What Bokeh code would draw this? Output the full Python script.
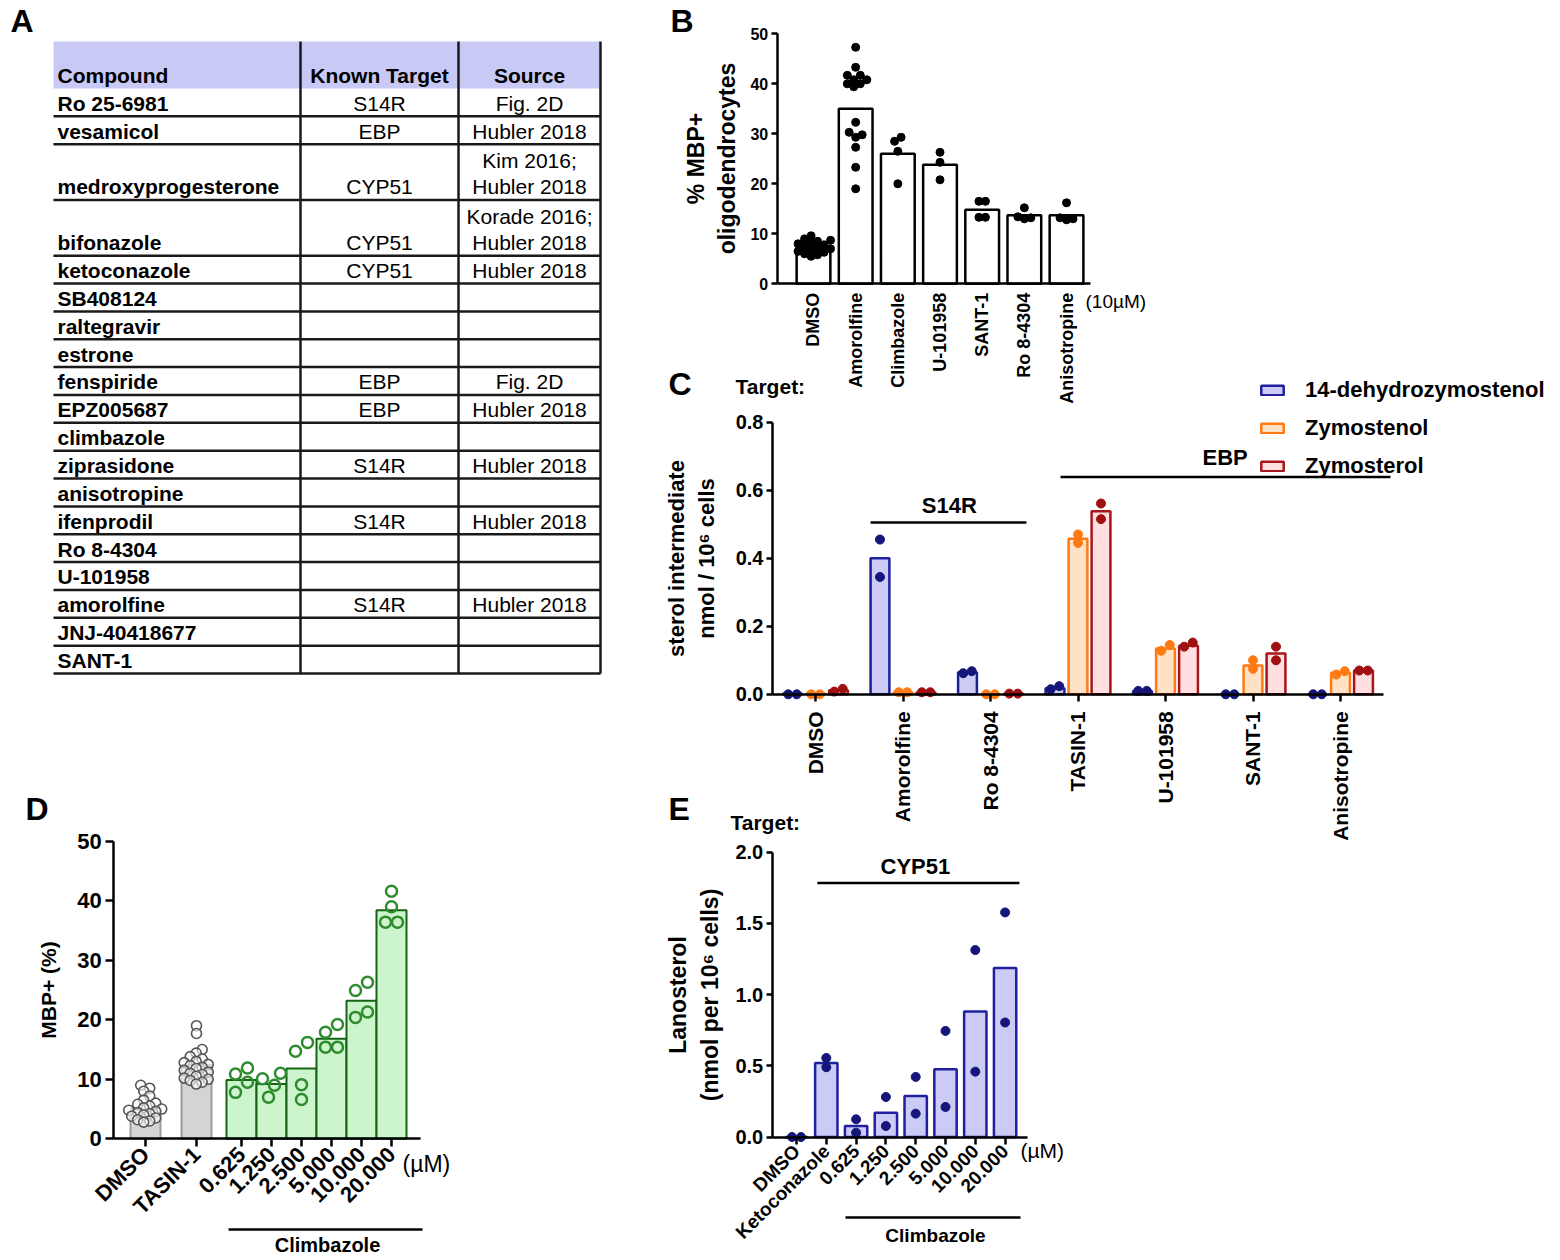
import math
from bokeh.plotting import figure
from bokeh.layouts import row, column
from bokeh.models import (Range1d, FixedTicker, Label, Legend, LegendItem, BoxAnnotation,
                          PrintfTickFormatter)
from bokeh.embed import file_html
from bokeh.resources import INLINE
from bokeh.core.properties import value

FONT = "Liberation Sans"

# ============================ DATA ============================
# Panel A (table)
table_header = ["Compound", "Known Target", "Source"]
table_compounds = ["Ro 25-6981", "vesamicol", "medroxyprogesterone", "bifonazole",
                   "ketoconazole", "SB408124", "raltegravir", "estrone", "fenspiride",
                   "EPZ005687", "climbazole", "ziprasidone", "anisotropine", "ifenprodil",
                   "Ro 8-4304", "U-101958", "amorolfine", "JNJ-40418677", "SANT-1"]
table_targets = ["S14R", "EBP", "CYP51", "CYP51", "CYP51", "", "", "", "EBP", "EBP", "",
                 "S14R", "", "S14R", "", "", "S14R", "", ""]
table_sources = ["Fig. 2D", "Hubler 2018", "Kim 2016;\nHubler 2018", "Korade 2016;\nHubler 2018",
                 "Hubler 2018", "", "", "", "Fig. 2D", "Hubler 2018", "", "Hubler 2018", "",
                 "Hubler 2018", "", "", "Hubler 2018", "", ""]

# Panel B
b_categories = ["DMSO", "Amorolfine", "Climbazole", "U-101958", "SANT-1", "Ro 8-4304", "Anisotropine"]
b_means = [7.3, 35.0, 26.0, 23.8, 14.8, 13.7, 13.7]
b_points = [
    [9.6, 9.0, 8.7, 8.5, 8.2, 8.0, 7.8, 7.5, 7.2, 7.0, 6.8, 6.5, 6.3, 6.0, 5.8, 5.5],
    [47.3, 43.3, 41.7, 40.8, 40.0, 39.4, 40.0, 40.8, 41.7, 32.3, 30.3, 29.8, 29.3, 27.3, 23.3, 19.0],
    [28.5, 29.3, 26.5, 20.0],
    [26.3, 24.3, 20.8],
    [16.5, 16.5, 13.3, 13.3],
    [15.2, 13.4, 13.0, 13.2],
    [16.2, 13.2, 12.8, 13.0],
]
b_yticks = [0, 10, 20, 30, 40, 50]
b_ylabel = "% MBP+\noligodendrocytes"
b_unit = "(10µM)"

# Panel C
c_categories = ["DMSO", "Amorolfine", "Ro 8-4304", "TASIN-1", "U-101958", "SANT-1", "Anisotropine"]
c_series = ["14-dehydrozymostenol", "Zymostenol", "Zymosterol"]
c_mean_dehydro = [0.002, 0.40, 0.065, 0.018, 0.010, 0.0, 0.0]
c_mean_zymostenol = [0.002, 0.005, 0.0, 0.457, 0.135, 0.085, 0.063]
c_mean_zymosterol = [0.012, 0.005, 0.002, 0.538, 0.143, 0.120, 0.070]
c_pts_dehydro = [[0.0, 0.0], [0.455, 0.345], [0.062, 0.068], [0.015, 0.024],
                 [0.010, 0.010], [0.0, 0.0], [0.0, 0.0]]
c_pts_zymostenol = [[0.0, 0.0], [0.006, 0.006], [0.0, 0.0], [0.445, 0.470],
                    [0.128, 0.145], [0.075, 0.100], [0.058, 0.068]]
c_pts_zymosterol = [[0.008, 0.016], [0.006, 0.006], [0.002, 0.002], [0.515, 0.561],
                    [0.140, 0.152], [0.100, 0.140], [0.070, 0.070]]
c_yticks = [0.0, 0.2, 0.4, 0.6, 0.8]
c_ylabel = "sterol intermediate\nnmol / 10\u2076 cells"
c_targets = ["S14R", "EBP"]

# Panel D
d_categories = ["DMSO", "TASIN-1", "0.625", "1.250", "2.500", "5.000", "10.000", "20.000"]
d_means = [5.0, 12.4, 9.9, 9.2, 11.8, 16.8, 23.2, 38.4]
d_points = [
    [9.0, 8.5, 8.0, 7.2, 6.5, 6.0, 5.8, 5.5, 5.2, 5.0, 4.8, 4.6, 4.4, 4.2, 4.0, 3.8, 3.5, 3.2, 3.0, 2.8],
    [19.0, 17.7, 15.0, 14.4, 13.8, 13.4, 13.0, 12.8, 12.5, 12.3, 12.0, 11.8, 11.5, 11.2, 11.0,
     10.8, 10.5, 10.2, 10.0, 9.8, 9.5, 9.2],
    [10.9, 7.8, 11.9, 9.5],
    [10.1, 7.0, 11.0, 9.0],
    [14.7, 9.1, 6.6, 16.2],
    [17.9, 15.4, 19.2, 15.4],
    [24.9, 20.4, 26.3, 21.3],
    [41.6, 39.0, 36.4, 36.4],
]
d_yticks = [0, 10, 20, 30, 40, 50]
d_ylabel = "MBP+ (%)"
d_group = "Climbazole"
d_unit = "(µM)"

# Panel E
e_categories = ["DMSO", "Ketoconazole", "0.625", "1.250", "2.500", "5.000", "10.000", "20.000"]
e_means = [0.0, 0.52, 0.077, 0.171, 0.288, 0.476, 0.881, 1.186]
e_points = [[0.0, 0.0], [0.49, 0.555], [0.124, 0.030], [0.281, 0.077], [0.422, 0.164],
            [0.745, 0.211], [1.313, 0.459], [1.577, 0.804]]
e_yticks = [0.0, 0.5, 1.0, 1.5, 2.0]
e_ylabel = "Lanosterol\n(nmol per 10\u2076 cells)"
e_target = "CYP51"
e_group = "Climbazole"
e_unit = "(µM)"


# ============================ HELPERS ============================
def xr_of(left_px, right_px, v0_px, s):
    """x range covering page pixels [left_px, right_px], value 0 at v0_px, s px per unit"""
    return ((left_px - v0_px) / s, (right_px - v0_px) / s)


def yr_of(top_px, bottom_px, v0_px, s):
    return ((v0_px - bottom_px) / s, (v0_px - top_px) / s)


def base_fig(W, H, xr, yr):
    # the frame fills the whole canvas; axes are drawn at fixed locations inside it
    p = figure(width=W, height=H, x_range=Range1d(xr[0], xr[1]), y_range=Range1d(yr[0], yr[1]),
               min_border=0, min_border_left=0, min_border_right=0, min_border_top=0,
               min_border_bottom=0, output_backend="svg", toolbar_location=None, title=None)
    p.border_fill_color = None
    p.background_fill_color = None
    p.outline_line_color = None
    for g in p.grid:
        g.visible = False
    return p


def style_axis(ax, size, tick_out, standoff, lw=2.5):
    ax.axis_line_width = lw
    ax.axis_line_color = "black"
    ax.major_tick_line_width = lw
    ax.major_tick_line_color = "black"
    ax.major_tick_out = tick_out
    ax.major_tick_in = 0
    ax.minor_tick_line_color = None
    ax.major_label_text_font = FONT
    ax.major_label_text_font_size = f"{size}px"
    ax.major_label_text_font_style = "bold"
    ax.major_label_text_color = "black"
    ax.major_label_standoff = standoff
    ax.axis_label_text_font = FONT
    ax.axis_label_text_font_style = "bold"
    ax.axis_label_text_color = "black"


def put(p, org, H, px, py, text, size, bold=True, align="left"):
    """text whose visual centre line is at page pixel py"""
    ox, oy = org
    p.add_layout(Label(x=px - ox, y=H - (py - oy), x_units="screen", y_units="screen", text=text,
                       text_font=FONT, text_font_size=f"{size}px",
                       text_font_style="bold" if bold else "normal",
                       text_align=align, text_baseline="middle", text_color="black"))


def put_data(p, x, y, text, size, align="center"):
    p.add_layout(Label(x=x, y=y, text=text, text_font=FONT, text_font_size=f"{size}px",
                       text_font_style="bold", text_align=align, text_baseline="middle",
                       text_color="black"))


def hline(p, org, H, px0, px1, py, lw=2.5):
    ox, oy = org
    y = H - (py - oy)
    p.add_layout(BoxAnnotation(left=px0 - ox, right=px1 - ox, bottom=y - lw / 2, top=y + lw / 2,
                               left_units="screen", right_units="screen",
                               top_units="screen", bottom_units="screen",
                               fill_color="black", fill_alpha=1.0, line_color=None))


def swarm(vals, px_y, px_x, diam):
    """simple beeswarm: horizontal offsets (data units) so that dots do not overlap"""
    step = diam * 0.5
    order = sorted(range(len(vals)), key=lambda i: vals[i])
    placed = []
    offs = [0.0] * len(vals)
    for i in order:
        y = vals[i] * px_y
        k = 0
        while True:
            cands = [0.0] if k == 0 else [k * step, -k * step]
            hit = None
            for c in cands:
                if all((c - qx) ** 2 + (y - qy) ** 2 >= diam * diam for qx, qy in placed):
                    hit = c
                    break
            if hit is not None:
                break
            k += 1
        placed.append((hit, y))
        offs[i] = hit
    clusters, cur = [], [order[0]]
    for a, b in zip(order, order[1:]):
        if (vals[b] - vals[a]) * px_y < diam:
            cur.append(b)
        else:
            clusters.append(cur)
            cur = [b]
    clusters.append(cur)
    for cl in clusters:
        m = sum(offs[i] for i in cl) / len(cl)
        for i in cl:
            offs[i] -= m
    return [o / px_x for o in offs]


# ============================ PANEL A ============================
A_ORG, AW, AH = (0, 0), 650, 690
TBL_X0, TBL_Y0 = 53, 41            # table origin on the page
pa = base_fig(AW, AH, (-TBL_X0, AW - TBL_X0), (AH - TBL_Y0, -TBL_Y0))
pa.xaxis.visible = False
pa.yaxis.visible = False
HEADER_H, ROW_H, LINE_H = 47.0, 27.86, 26.5
COL_EDGES = [0.0, 247.0, 405.0, 547.0]
tgt_cx = (COL_EDGES[1] + COL_EDGES[2]) / 2
src_cx = (COL_EDGES[2] + COL_EDGES[3]) / 2

pa.quad(left=[COL_EDGES[0]], right=[COL_EDGES[3]], top=[0], bottom=[HEADER_H],
        fill_color="#c9c9f6", line_color=None)
units = [s.count("\n") + 1 for s in table_sources]
bottoms = []
acc = HEADER_H
for u in units:
    acc += u * ROW_H
    bottoms.append(acc)
pa.segment(x0=[COL_EDGES[0]] * len(bottoms), x1=[COL_EDGES[3]] * len(bottoms), y0=bottoms, y1=bottoms,
           line_color="#1a1a1a", line_width=2.5)
pa.segment(x0=COL_EDGES[1:], x1=COL_EDGES[1:], y0=[0] * 3, y1=[bottoms[-1]] * 3,
           line_color="#1a1a1a", line_width=2.5)

TXT = dict(text_font=value(FONT), text_font_size="21px", text_baseline="middle", text_color="black")
pa.text(x=[4], y=[HEADER_H - 13.5], text=[table_header[0]], text_font_style="bold",
        text_align="left", **TXT)
pa.text(x=[tgt_cx, src_cx], y=[HEADER_H - 13.5] * 2, text=table_header[1:],
        text_font_style="bold", text_align="center", **TXT)
pa.text(x=[4] * len(table_compounds), y=[b - 13 for b in bottoms], text=table_compounds,
        text_font_style="bold", text_align="left", **TXT)
tx, ty, tt = [], [], []
for tgt, src, b in zip(table_targets, table_sources, bottoms):
    if tgt:
        tx.append(tgt_cx); ty.append(b - 13); tt.append(tgt)
    lines = src.split("\n") if src else []
    for k, ln in enumerate(lines):
        tx.append(src_cx); ty.append(b - 13 - (len(lines) - 1 - k) * LINE_H); tt.append(ln)
pa.text(x=tx, y=ty, text=tt, text_font_style="normal", text_align="center", **TXT)
put(pa, A_ORG, AH, 10, 20, "A", 32)

# ============================ PANEL B ============================
B_ORG, BW, BH = (650, 0), 520, 405
B_C0, B_DX, B_Y0, B_S = 813.0, 42.17, 283.3, 5.0
pb = base_fig(BW, BH, xr_of(650, 650 + BW, B_C0, B_DX), yr_of(0, BH, B_Y0, B_S))
bx = list(range(len(b_categories)))
pb.vbar(x=bx, top=b_means, width=0.8, fill_color="white", line_color="black", line_width=2.5)
sx, sy = [], []
for i, vals in enumerate(b_points):
    offs = swarm(vals, B_S, B_DX, 6.5)
    sx += [i + o for o in offs]
    sy += vals
pb.scatter(sx, sy, size=8, color="black")
b_axis_x = (776.7 - B_C0) / B_DX
ya = pb.yaxis[0]
style_axis(ya, 16, 6, 3)
ya.fixed_location = b_axis_x
ya.bounds = (0, 50)
ya.ticker = FixedTicker(ticks=b_yticks)
ya.axis_label = b_ylabel
ya.axis_label_text_font_size = "23px"
ya.axis_label_standoff = 8
xa = pb.xaxis[0]
style_axis(xa, 18, 0, 9)
xa.fixed_location = 0
xa.bounds = (b_axis_x, (1090 - B_C0) / B_DX)
xa.major_tick_line_color = None
xa.ticker = FixedTicker(ticks=bx)
xa.major_label_overrides = {i: c for i, c in enumerate(b_categories)}
xa.major_label_orientation = math.pi / 2
put(pb, B_ORG, BH, 670, 20, "B", 32)
put(pb, B_ORG, BH, 1085, 301, b_unit, 19, bold=False)

# ============================ PANEL C ============================
C_ORG, CW, CH = (650, 358), 910, 500
C_C0, C_DX, C_Y0, C_S = 815.0, 87.5, 693.8, 340.1
pc = base_fig(CW, CH, xr_of(650, 650 + CW, C_C0, C_DX),
              yr_of(C_ORG[1], C_ORG[1] + CH, C_Y0, C_S))
c_means = [c_mean_dehydro, c_mean_zymostenol, c_mean_zymosterol]
c_pts = [c_pts_dehydro, c_pts_zymostenol, c_pts_zymosterol]
c_line = ["#20209e", "#ff7a12", "#a8151b"]
c_fill = ["#cbcbf5", "#ffe2c6", "#ffdfe0"]
c_dot = ["#16167a", "#ff7a12", "#a01010"]
C_OFF = [-0.263, 0.0, 0.263]
c_rend = []
for s in range(3):
    xs = [i + C_OFF[s] for i in range(len(c_categories))]
    r = pc.vbar(x=xs, top=c_means[s], width=0.215, fill_color=c_fill[s], line_color=c_line[s],
                line_width=2.5)
    c_rend.append(r)
    px_, py_ = [], []
    for i, vals in enumerate(c_pts[s]):
        offs = swarm(vals, C_S, C_DX, 8.5)
        px_ += [xs[i] + o for o in offs]
        py_ += vals
    pc.scatter(px_, py_, size=9, color=c_dot[s])
c_axis_x = (772 - C_C0) / C_DX
ya = pc.yaxis[0]
style_axis(ya, 20, 6, 3)
ya.fixed_location = c_axis_x
ya.ticker = FixedTicker(ticks=c_yticks)
ya.formatter = PrintfTickFormatter(format="%.1f")
ya.bounds = (0, 0.8)
ya.axis_label = c_ylabel
ya.axis_label_text_font_size = "22px"
ya.axis_label_standoff = 14
xa = pc.xaxis[0]
style_axis(xa, 21, 7, 10)
xa.fixed_location = 0
xa.bounds = (c_axis_x, (1383 - C_C0) / C_DX)
xa.ticker = FixedTicker(ticks=list(range(len(c_categories))))
xa.major_label_overrides = {i: c for i, c in enumerate(c_categories)}
xa.major_label_orientation = math.pi / 2
pc.segment(x0=[0.629, 2.8], x1=[2.411, 6.571], y0=[0.505, 0.639], y1=[0.505, 0.639],
           line_color="black", line_width=2.5)
put_data(pc, 1.53, (C_Y0 - 505) / C_S, c_targets[0], 22, "center")
put_data(pc, 4.94, (C_Y0 - 457) / C_S, c_targets[1], 22, "right")
legend = Legend(items=[LegendItem(label=n, renderers=[r]) for n, r in zip(c_series, c_rend)],
                location=(1258 - 650, CH - (479 - C_ORG[1])), orientation="vertical",
                glyph_width=28, glyph_height=12, label_standoff=19, spacing=12, padding=0,
                margin=0, border_line_color=None, background_fill_alpha=0,
                label_text_font=FONT, label_text_font_size="22px", label_text_font_style="bold",
                label_text_color="black")
pc.add_layout(legend)
put(pc, C_ORG, CH, 668, 383, "C", 32)
put(pc, C_ORG, CH, 735, 386, "Target:", 21)

# ============================ PANEL D ============================
D_ORG, DW, DH = (0, 785), 470, 473
D_C0, D_DX, D_Y0, D_S = 145.0, 3.0, 1138.3, 5.952
d_x = [0, 17, 32, 42, 52, 62, 72, 82]
pd = base_fig(DW, DH, xr_of(0, DW, D_C0, D_DX), yr_of(785, 785 + DH, D_Y0, D_S))
ctrl = [i for i in range(len(d_categories)) if i < 2]
drug = [i for i in range(len(d_categories)) if i >= 2]
pd.vbar(x=[d_x[i] for i in ctrl], top=[d_means[i] for i in ctrl], width=10,
        fill_color="#d4d4d4", line_color="#9c9c9c", line_width=2)
pd.vbar(x=[d_x[i] for i in drug], top=[d_means[i] for i in drug], width=10,
        fill_color="#cdf5cd", line_color="#146414", line_width=2)
gx, gy, cx_, cy_ = [], [], [], []
for i, vals in enumerate(d_points):
    offs = swarm(vals, D_S, D_DX, 6.0 if i < 2 else 12.0)
    if i < 2:
        gx += [d_x[i] + o for o in offs]; gy += vals
    else:
        cx_ += [d_x[i] + o for o in offs]; cy_ += vals
pd.scatter(gx, gy, size=10, fill_color="white", fill_alpha=0.6, line_color="#555555", line_width=1.6)
pd.scatter(cx_, cy_, size=11, fill_color=None, line_color="#2e8b2e", line_width=2.5)
d_axis_x = (113.3 - D_C0) / D_DX
ya = pd.yaxis[0]
style_axis(ya, 22, 8, 4)
ya.fixed_location = d_axis_x
ya.bounds = (0, 50)
ya.ticker = FixedTicker(ticks=d_yticks)
ya.axis_label = d_ylabel
ya.axis_label_text_font_size = "21px"
ya.axis_label_standoff = 14
xa = pd.xaxis[0]
style_axis(xa, 22, 8, 4)
xa.fixed_location = 0
xa.bounds = (d_axis_x, (420 - D_C0) / D_DX)
xa.ticker = FixedTicker(ticks=d_x)
xa.major_label_overrides = {d_x[i]: c for i, c in enumerate(d_categories)}
xa.major_label_orientation = math.pi / 4
put(pd, D_ORG, DH, 25, 808, "D", 32)
put(pd, D_ORG, DH, 402, 1163, d_unit, 23, bold=False)
hline(pd, D_ORG, DH, 228, 422, 1229)
put(pd, D_ORG, DH, 327, 1244, d_group, 20, align="center")

# ============================ PANEL E ============================
E_ORG, EW, EH = (650, 780), 450, 478
E_C0, E_DX, E_Y0, E_S = 796.0, 29.8, 1136.5, 142.4
pe = base_fig(EW, EH, xr_of(650, 650 + EW, E_C0, E_DX),
              yr_of(E_ORG[1], E_ORG[1] + EH, E_Y0, E_S))
ex = list(range(len(e_categories)))
pe.vbar(x=ex, top=e_means, width=0.75, fill_color="#cbcbf5", line_color="#20209e", line_width=2.5)
sx, sy = [], []
for i, vals in enumerate(e_points):
    offs = swarm(vals, E_S, E_DX, 9.0)
    sx += [i + o for o in offs]
    sy += vals
pe.scatter(sx, sy, size=9, color="#16167a")
e_axis_x = (771.7 - E_C0) / E_DX
ya = pe.yaxis[0]
style_axis(ya, 20, 6, 3)
ya.fixed_location = e_axis_x
ya.ticker = FixedTicker(ticks=e_yticks)
ya.formatter = PrintfTickFormatter(format="%.1f")
ya.bounds = (0, 2.0)
ya.axis_label = e_ylabel
ya.axis_label_text_font_size = "23px"
ya.axis_label_standoff = 10
xa = pe.xaxis[0]
style_axis(xa, 19, 7, 4)
xa.fixed_location = 0
xa.bounds = (e_axis_x, (1027 - E_C0) / E_DX)
xa.ticker = FixedTicker(ticks=ex)
xa.major_label_overrides = {i: c for i, c in enumerate(e_categories)}
xa.major_label_orientation = math.pi / 4
pe.segment(x0=[0.7], x1=[7.48], y0=[1.783], y1=[1.783], line_color="black", line_width=2.5)
put_data(pe, 3.99, (E_Y0 - 866) / E_S, e_target, 22, "center")
put(pe, E_ORG, EH, 668, 808, "E", 32)
put(pe, E_ORG, EH, 730, 822, "Target:", 21)
put(pe, E_ORG, EH, 1020, 1150, e_unit, 21, bold=False)
hline(pe, E_ORG, EH, 845, 1020, 1217)
put(pe, E_ORG, EH, 935, 1235, e_group, 19, align="center")

# ============================ LAYOUT ============================
# panels overlap slightly (as in the source figure): negative top margins, transparent canvases
pa.margin = (0, 0, 0, 0)
pb.margin = (0, 0, 0, 0)
pd.margin = (D_ORG[1] - AH, 0, 0, 0)
pc.margin = (C_ORG[1] - BH, 0, 0, 0)
pe.margin = (E_ORG[1] - (C_ORG[1] + CH), 0, 0, 0)
left = column(pa, pd, spacing=0)
right = column(pb, pc, pe, spacing=0)
root = row(left, right, spacing=0)

with open("out.html", "w") as f:
    f.write(file_html(root, INLINE, title="Figure"))
